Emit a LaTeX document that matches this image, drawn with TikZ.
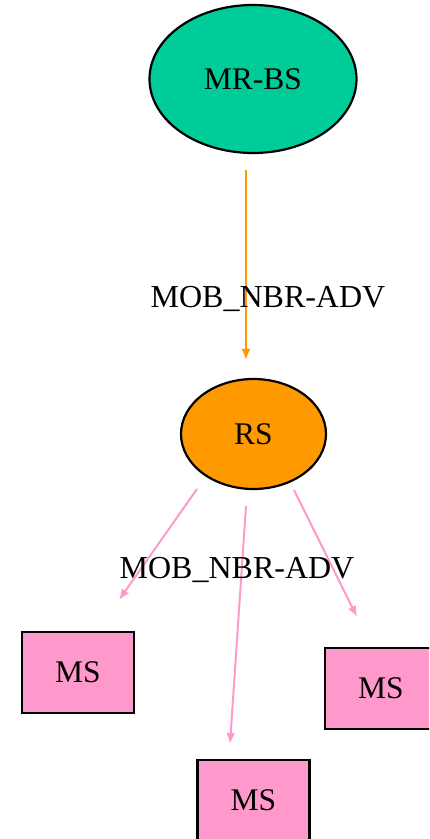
\documentclass[tikz,border=0pt]{standalone}
\usepackage{fontspec}
\setmainfont{Liberation Serif}
\usetikzlibrary{arrows.meta,shapes.geometric}
\definecolor{mrbsgreen}{RGB}{0,204,153}
\definecolor{rsorange}{RGB}{255,153,0}
\definecolor{mspink}{RGB}{255,153,204}
\tikzset{
    station/.style={
        draw,
        ellipse,
        line width=2.2pt,
        font=\fontsize{31.5}{31.5}\selectfont,
    },
    mobile/.style={
        draw,
        rectangle,
        line width=2.2pt,
        fill=mspink,
        minimum width=112,
        minimum height=81,
        font=\fontsize{31.5}{31.5}\selectfont,
    },
    msglabel/.style={
        font=\fontsize{32}{32}\selectfont,
    },
    advedge/.style={
        line width=2pt,
        -{Latex[length=11pt,width=9pt]},
    },
}
\begin{document}
\begin{tikzpicture}[x=1pt, y=1pt]
    \useasboundingbox (0, 0) rectangle (429, 839);
    \clip (0, 0) rectangle (429, 839);
    % Base station, relay station, mobile stations
    \node[station, fill=mrbsgreen, minimum width=207, minimum height=148] (mrbs) at (253, 760) {MR-BS};
    \node[station, fill=rsorange, minimum width=145, minimum height=110] (rs) at (253.5, 405) {RS};
    \node[mobile] (msl) at (78, 166.5) {MS};
    \node[mobile] (msr) at (381, 150.5) {MS};
    \node[mobile] (msb) at (253.5, 38.5) {MS};

    % Advertisement from MR-BS to RS
    \draw[advedge, rsorange]
      ([shift={(-7, -91)}]mrbs.center) -- ([shift={(-7.5, 74)}]rs.center);
    \node[msglabel] (lbltop) at (268, 540) {MOB\_NBR-ADV};

    % Advertisement from RS to the MS
    \draw[advedge, mspink]
      ([shift={(-56.5, -55)}]rs.center) -- ([shift={(41, 72.5)}]msl.center);
    \draw[advedge, mspink]
      ([shift={(-7.5, -72)}]rs.center) -- ([shift={(-23.5, 56.5)}]msb.center);
    \draw[advedge, mspink]
      ([shift={(40.5, -56)}]rs.center) -- ([shift={(-24, 71.5)}]msr.center);
    \node[msglabel] (lblbottom) at (237, 269) {MOB\_NBR-ADV};
\end{tikzpicture}
\end{document}
